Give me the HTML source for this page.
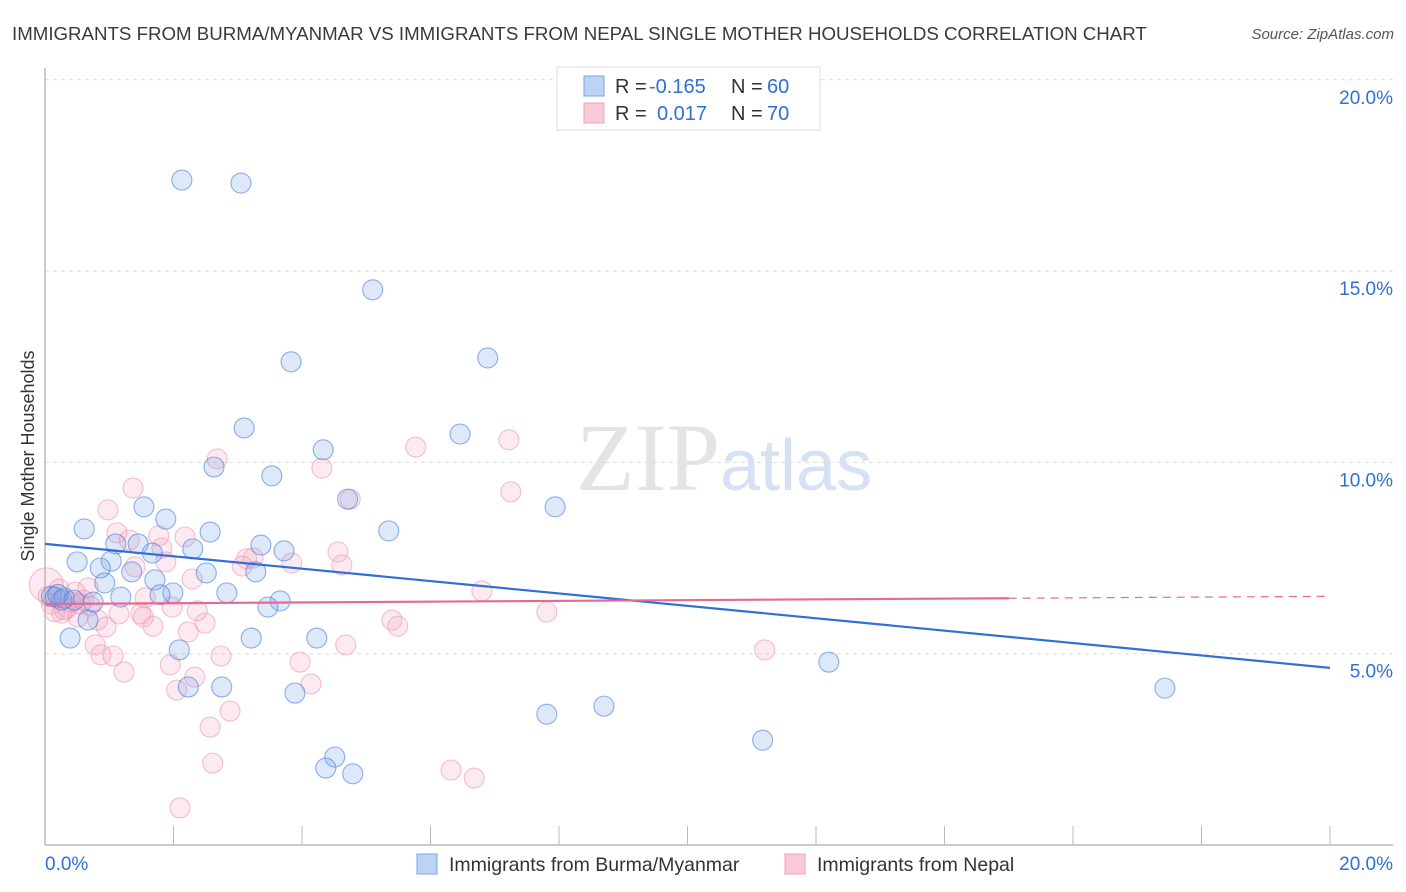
<!DOCTYPE html>
<html><head><meta charset="utf-8"><style>
body{margin:0;background:#fff;font-family:"Liberation Sans",sans-serif;}
svg{display:block}
</style></head><body>
<svg id="chart" width="1406" height="892">
<text x="12" y="40" font-size="18.7" fill="#3a3a3a">IMMIGRANTS FROM BURMA/MYANMAR VS IMMIGRANTS FROM NEPAL SINGLE MOTHER HOUSEHOLDS CORRELATION CHART</text>
<text x="1394" y="39" font-size="15" fill="#555" text-anchor="end" font-style="italic">Source: ZipAtlas.com</text>
<text x="720" y="490" font-size="96" fill="#e4e4e4" text-anchor="end" font-family="Liberation Serif">ZIP</text>
<text x="720" y="490" font-size="72" fill="#d6e2f3">atlas</text>
<g id="grid"></g>
<g id="axes"></g>
<g id="pts"></g>
<g id="lines"></g>
<text transform="translate(34,456) rotate(-90)" font-size="18" fill="#333" text-anchor="middle">Single Mother Households</text>
<g>
<rect x="557" y="67" width="263" height="63" fill="#fff" stroke="#ddd"/>
<rect x="584" y="76" width="20" height="20" fill="#bcd3f5" stroke="#7aa6e6"/>
<rect x="584" y="103" width="20" height="20" fill="#f9c9d8" stroke="#f0a3bc"/>
<text x="615" y="93" font-size="20" fill="#333">R =</text>
<text x="649" y="93" font-size="20" fill="#2f6fd6">-0.165</text>
<text x="731" y="93" font-size="20" fill="#333">N =</text>
<text x="767" y="93" font-size="20" fill="#2f6fd6">60</text>
<text x="615" y="120" font-size="20" fill="#333">R =</text>
<text x="657" y="120" font-size="20" fill="#2f6fd6">0.017</text>
<text x="731" y="120" font-size="20" fill="#333">N =</text>
<text x="767" y="120" font-size="20" fill="#2f6fd6">70</text>
</g>
<g>
<rect x="417" y="854" width="20" height="20" fill="#bcd3f5" stroke="#7aa6e6"/>
<text x="449" y="871" font-size="19.5" fill="#333">Immigrants from Burma/Myanmar</text>
<rect x="785" y="854" width="20" height="20" fill="#f9c9d8" stroke="#f0a3bc"/>
<text x="817" y="871" font-size="19.5" fill="#333">Immigrants from Nepal</text>
</g>
</svg>
<script>
const yTicks=[5,10,15,20];
const yTickLabels=["5.0%","10.0%","15.0%","20.0%"];
const xTickLabels=["0.0%","20.0%"];
const blueX=[2.13,3.05,5.10,3.83,6.89,3.10,6.46,4.33,2.63,3.53,4.71,7.94,1.54,0.61,1.88,2.57,5.35,1.10,1.45,2.30,1.67,3.36,3.72,0.50,1.03,0.86,1.35,2.51,3.28,1.71,0.93,1.99,2.83,1.79,1.18,0.16,0.26,0.75,3.66,3.47,0.67,0.39,3.21,4.23,2.09,12.20,2.75,2.23,3.89,17.43,8.70,7.81,11.17,4.51,4.37,4.79,0.10,0.30,0.45,0.20];
const blueY=[17.38,17.30,14.51,12.63,12.73,10.90,10.74,10.33,9.88,9.65,9.04,8.84,8.84,8.26,8.52,8.18,8.21,7.87,7.87,7.74,7.63,7.84,7.69,7.40,7.42,7.24,7.14,7.11,7.14,6.93,6.85,6.59,6.59,6.54,6.48,6.48,6.40,6.35,6.38,6.22,5.88,5.41,5.41,5.41,5.10,4.78,4.13,4.13,3.97,4.10,3.63,3.42,2.74,2.30,2.01,1.86,6.5,6.45,6.4,6.55];
const pinkX=[0.02,0.98,1.37,2.68,4.31,5.77,7.22,7.25,4.75,1.12,1.31,1.77,2.18,1.82,1.88,3.14,3.24,3.07,3.84,4.56,4.62,2.29,1.40,0.67,0.22,0.47,1.56,1.98,2.37,1.15,1.49,0.26,0.51,0.82,1.53,1.68,2.49,0.95,2.23,6.80,7.81,5.40,5.49,4.68,0.78,0.87,1.06,2.74,1.95,3.97,1.23,2.33,4.14,2.05,2.88,2.57,2.61,6.32,6.68,2.10,11.20,0.10,0.35,0.60,0.15,0.40,0.70,0.05,0.30,0.55];
const pinkY=[6.8,8.76,9.33,10.09,9.85,10.40,10.59,9.23,9.04,8.16,7.97,8.08,8.05,7.76,7.40,7.48,7.50,7.29,7.37,7.66,7.32,6.95,7.27,6.72,6.69,6.61,6.46,6.22,6.12,6.04,6.04,6.06,5.96,5.88,5.96,5.72,5.80,5.70,5.57,6.64,6.09,5.88,5.72,5.23,5.23,4.97,4.94,4.94,4.71,4.78,4.52,4.39,4.21,4.05,3.50,3.08,2.14,1.96,1.75,0.97,5.10,6.3,6.2,6.4,6.1,6.35,6.25,6.5,6.15,6.3];
const blueTrend=[7.87,4.63];
const pinkTrend=[6.30,6.50];
const X0=45,X1=1330,Y0=845,YS=38.26;
const sx=v=>X0+(X1-X0)*v/20, sy=v=>Y0-v*YS;
const NS="http://www.w3.org/2000/svg";
function mk(p,t,a){const e=document.createElementNS(NS,t);for(const k in a)e.setAttribute(k,a[k]);p.appendChild(e);return e;}
const grid=document.getElementById('grid'),axes=document.getElementById('axes'),pts=document.getElementById('pts'),lines=document.getElementById('lines');
yTicks.forEach((t,i)=>{
 const g=mk(grid,'line',{x1:X0,x2:1393,y1:sy(t),y2:sy(t),stroke:'#ddd','stroke-dasharray':'4 4'});
 
 
 const l=mk(axes,'text',{x:1393,y:sy(t)+24,'font-size':19,fill:'#2f6fd6','text-anchor':'end'});
 l.textContent=yTickLabels[i];
 
 
});
const ya=mk(axes,'line',{x1:X0,x2:X0,y1:68,y2:Y0,stroke:'#bbb','stroke-width':1.5});


const xa=mk(axes,'line',{x1:X0,x2:1393,y1:Y0,y2:Y0,stroke:'#bbb','stroke-width':1.5});


for(let i=0;i<=10;i++){const tk=mk(axes,'line',{x1:sx(i*2),x2:sx(i*2),y1:826,y2:Y0,stroke:'#bbb'});
 
 }
const xl0=mk(axes,'text',{x:45,y:870,'font-size':19,fill:'#2f6fd6'});xl0.textContent=xTickLabels[0];


const xl1=mk(axes,'text',{x:1393,y:870,'font-size':19,fill:'#2f6fd6','text-anchor':'end'});xl1.textContent=xTickLabels[1];


function draw(xs,ys,fill,stroke,name){xs.forEach((x,i)=>{
 const r=(i===0&&name==='nepal-point')?17:10;
 const c=mk(pts,'circle',{cx:sx(x),cy:sy(ys[i]),r:r,fill:fill,stroke:stroke,'stroke-width':1.1});
 
 
});}
draw(pinkX,pinkY,'rgba(244,160,188,0.22)','rgba(236,150,178,0.6)','nepal-point');
draw(blueX,blueY,'rgba(120,165,232,0.25)','rgba(70,125,220,0.6)','burma-point');
const bl=mk(lines,'line',{x1:sx(0),y1:sy(blueTrend[0]),x2:sx(20),y2:sy(blueTrend[1]),stroke:'#2f6fd6','stroke-width':2.2});


const pm=pinkTrend[0]+(pinkTrend[1]-pinkTrend[0])*0.75;
const pl=mk(lines,'line',{x1:sx(0),y1:sy(pinkTrend[0]),x2:sx(15),y2:sy(pm),stroke:'#e8698f','stroke-width':2.2});


const pd=mk(lines,'line',{x1:sx(15),y1:sy(pm),x2:sx(20),y2:sy(pinkTrend[1]),stroke:'#e8698f','stroke-width':1.2,'stroke-dasharray':'8 6'});


</script>
</body></html>
